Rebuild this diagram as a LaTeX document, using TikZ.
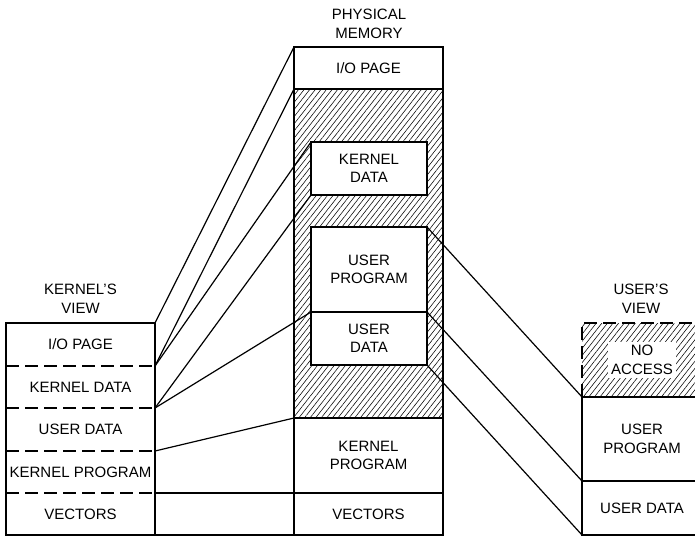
\documentclass[tikz,border=0pt]{standalone}
\usepackage{fontspec}
\setmainfont{Liberation Sans}
\usetikzlibrary{patterns.meta}
\begin{document}
\begin{tikzpicture}[x=1pt,y=-1pt,
  lbl/.style={font=\fontsize{15}{18.5}\selectfont, align=center, inner sep=0pt},
  cell/.style n args={2}{minimum width=#1, minimum height=#2, anchor=north west,
    inner sep=0pt, outer sep=0pt, align=center, font=\fontsize{15}{18.5}\selectfont},
  frame/.style={line width=1.7pt},
  dsh/.style={line width=1.5pt, dash pattern=on 13pt off 6pt},
  conn/.style={line width=1.2pt},
  hatch/.style={pattern={Lines[angle=52,distance=4.4pt,line width=0.55pt]}}]
\useasboundingbox (0,0) rectangle (695,536);

% titles
\node[lbl] (tmem) at (369,24) {PHYSICAL\\MEMORY};
\node[lbl] (tker) at (80.5,299) {KERNEL'S\\VIEW};
\node[lbl] (tusr) at (641,299) {USER'S\\VIEW};

% kernel's view
\node[cell={149pt}{43pt}] (kio) at (6,323) {I/O PAGE};
\node[cell={149pt}{42pt}] (kkd) at (6,366) {KERNEL DATA};
\node[cell={149pt}{43pt}] (kud) at (6,408) {USER DATA};
\node[cell={149pt}{42pt}] (kkp) at (6,451) {KERNEL PROGRAM};
\node[cell={149pt}{42pt}] (kvec) at (6,493) {VECTORS};
\draw[frame] (kio.north west) rectangle (kvec.south east);
\draw[dsh] (kio.south west) -- (kio.south east);
\draw[dsh] (kkd.south west) -- (kkd.south east);
\draw[dsh] (kud.south west) -- (kud.south east);
\draw[dsh] (kkp.south west) -- (kkp.south east);

% physical memory
\node[cell={149pt}{42pt}] (mio) at (294,47) {I/O PAGE};
\node[cell={149pt}{329pt}] (mhat) at (294,89) {};
\fill[hatch] (mhat.north west) rectangle (mhat.south east);
\node[cell={116pt}{53pt}, fill=white, draw, line width=1.7pt] (mkd) at (311,142) {KERNEL\\DATA};
\node[cell={116pt}{85pt}, fill=white] (mup) at (311,227) {USER\\PROGRAM};
\node[cell={116pt}{53pt}, fill=white] (mud) at (311,312) {USER\\DATA};
\draw[frame] (mup.north west) rectangle (mud.south east);
\draw[frame] (mud.north west) -- (mud.north east);
\node[cell={149pt}{75pt}] (mkp) at (294,418) {KERNEL\\PROGRAM};
\node[cell={149pt}{42pt}] (mvec) at (294,493) {VECTORS};
\draw[frame] (mio.north west) rectangle (mvec.south east);
\draw[frame] (mio.south west) -- (mio.south east);
\draw[frame] (mkp.north west) -- (mkp.north east);
\draw[frame] (mvec.north west) -- (mvec.north east);

% vectors row joined across the gap
\draw[frame] (kvec.north east) -- (mvec.north west);
\draw[frame] (kvec.south east) -- (mvec.south west);

% user's view
\node[cell={120pt}{74pt}] (una) at (582,323) {};
\fill[hatch] (una.north west) rectangle (una.south east);
\node[lbl, fill=white, inner sep=3pt] (natx) at (una.center) {NO\\ACCESS};
\node[cell={120pt}{84pt}] (uup) at (582,397) {USER\\PROGRAM};
\node[cell={120pt}{54pt}] (uud) at (582,481) {USER DATA};
\draw[dsh] (una.south west) -- (una.north west) -- (una.north east);
\draw[frame] (uup.north east) -- (uup.north west) -- (uud.south west) -- (uud.south east);
\draw[frame] (uud.north west) -- (uud.north east);

% kernel view -> physical memory
\draw[conn] (kio.north east) -- (mio.north west);
\draw[conn] (kio.south east) -- (mio.south west);
\draw[conn] (kkd.north east) -- (mkd.north west);
\draw[conn] (kkd.south east) -- (mkd.south west);
\draw[conn] (kud.north east) -- (mud.north west);
\draw[conn] (kud.south east) -- (mkp.north west);

% physical memory -> user view
\draw[conn] (mup.north east) -- (uup.north west);
\draw[conn] (mud.north east) -- (uud.north west);
\draw[conn] (mud.south east) -- (uud.south west);
\end{tikzpicture}
\end{document}
